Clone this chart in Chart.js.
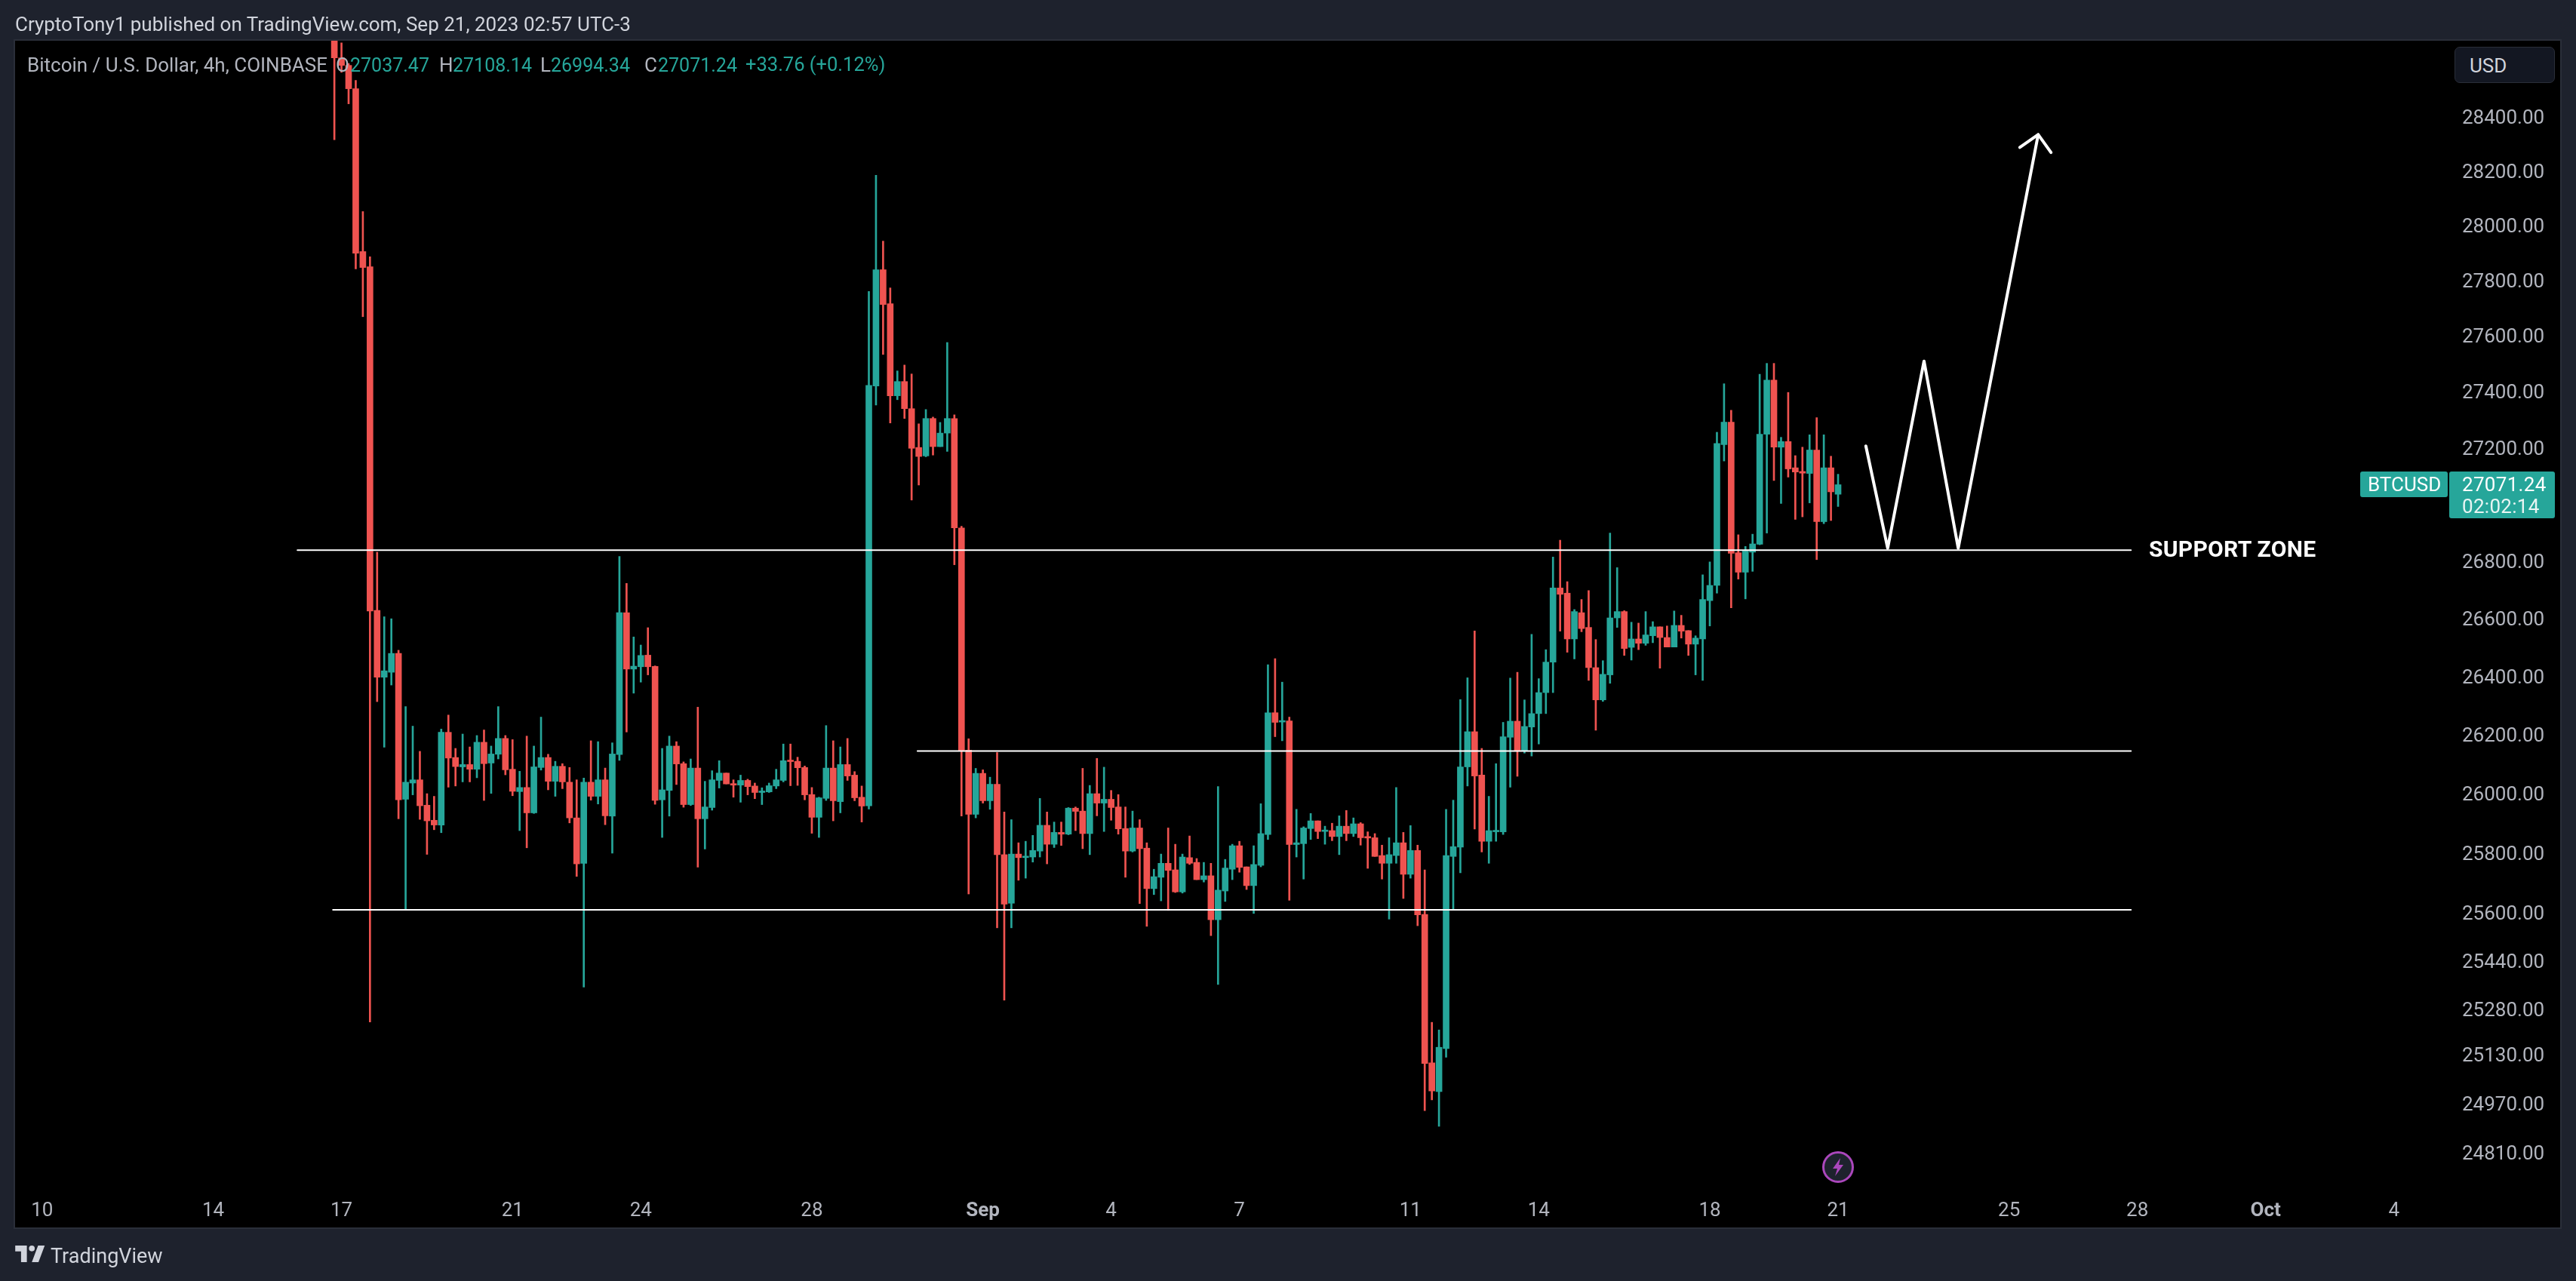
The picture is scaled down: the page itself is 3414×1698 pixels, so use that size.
<!DOCTYPE html>
<html>
<head>
<meta charset="utf-8">
<script src="https://cdn.jsdelivr.net/npm/chart.js@4"></script>
<style>
html, body { margin: 0; padding: 0; background: #1e222d; }
body { width: 3414px; height: 1698px; position: relative; overflow: hidden; font-family: Roboto, sans-serif; }
#pane { position: absolute; left: 20px; top: 54px; width: 3373px; height: 1573px; background: #000; box-shadow: 0 0 0 2px #2a2e39; }
canvas { position: absolute; left: 0; top: 0; }
.t { position: absolute; white-space: nowrap; line-height: 1; transform: translateY(-50%); }
.legend { font-size: 26px; color: #b2b5be; }
.up { color: #26a69a; font-size: 25px; }
.box { position: absolute; background: #26a69a; border-radius: 3px; }
#usd { position: absolute; left: 3253px; top: 62px; width: 131px; height: 46px; background: #131722; border: 1px solid #2a2e39; border-radius: 7px; }
</style>
</head>
<body>
<div id="pane"></div>
<canvas id="chart" width="3414" height="1698"></canvas>

<div class="t" style="left:20px;top:32px;font-size:26px;color:#d1d4dc">CryptoTony1 published on TradingView.com, Sep 21, 2023 02:57 UTC-3</div>

<div class="t legend" style="left:36px;top:86px">Bitcoin / U.S. Dollar, 4h, COINBASE</div>
<div class="t legend" style="left:445px;top:86px">O</div><div class="t legend up" style="left:464px;top:86px">27037.47</div>
<div class="t legend" style="left:582px;top:86px">H</div><div class="t legend up" style="left:600px;top:86px">27108.14</div>
<div class="t legend" style="left:716px;top:86px">L</div><div class="t legend up" style="left:730px;top:86px">26994.34</div>
<div class="t legend" style="left:854px;top:86px">C</div><div class="t legend up" style="left:872px;top:86px">27071.24</div>
<div class="t legend up" style="left:988px;top:86px;font-size:25.5px">+33.76 (+0.12%)</div>

<div id="usd"></div>
<div class="t" style="left:3273px;top:87px;font-size:26px;color:#d1d4dc">USD</div>

<div class="box" style="left:3128px;top:625px;width:116px;height:34px"></div>
<div class="box" style="left:3246px;top:625px;width:140px;height:62px"></div>
<div class="t" style="left:3138px;top:642px;font-size:26px;color:#fff">BTCUSD</div>
<div class="t" style="left:3263px;top:642px;font-size:26px;letter-spacing:.3px;color:#fff">27071.24</div>
<div class="t" style="left:3263px;top:671px;font-size:26px;letter-spacing:.3px;color:#e8f5f3">02:02:14</div>

<div class="t" style="left:2848px;top:728px;font-size:30px;font-weight:700;letter-spacing:.3px;color:#fff">SUPPORT ZONE</div>

<svg style="position:absolute;left:2414px;top:1525px" width="44" height="44" viewBox="0 0 44 44">
  <circle cx="22" cy="22" r="19.5" fill="#1e222d" stroke="#ab47bc" stroke-width="3"/>
  <path d="M25 10 L15 24 L21 24 L18 34 L29 19 L23 19 Z" fill="#ab47bc"/>
</svg>

<svg style="position:absolute;left:20px;top:1651px" width="40" height="22" viewBox="0 0 36 20">
  <path d="M14 0H0v7h7v13h7V0z M28 20h-8L27.5 0h8L28 20z" fill="#d1d4dc"/>
  <circle cx="20" cy="3.5" r="3.5" fill="#d1d4dc"/>
</svg>
<div class="t" style="left:67px;top:1665px;font-size:27px;color:#d1d4dc">TradingView</div>

<script>
// 4h candles, oldest first, the last one is the open bar of Sep 21
const opens = [
  28750,28621,28593,28506,27907,27852,26631,26400,26417,26482,
  25983,26038,26049,25963,25912,25896,26211,26125,26093,26101,
  26085,26177,26106,26136,26190,26085,26009,26023,25937,26091,
  26125,26044,26095,26041,25920,25767,26041,25993,26049,25926,
  26135,26623,26428,26436,26476,26437,25981,26013,26164,26104,
  25965,26089,25917,25955,26047,26072,26036,26031,26047,26028,
  26006,26008,26028,26047,26114,26112,26091,25999,25922,25986,
  26089,25975,26101,26065,25990,25961,27422,27841,27718,27387,
  27438,27341,27203,27173,27306,27206,27254,27306,26919,26150,
  25932,26071,25978,26034,25796,25633,25798,25786,25788,25808,
  25895,25831,25871,25865,25953,25943,25867,26002,25970,25983,
  25957,25884,25808,25886,25818,25682,25720,25767,25745,25671,
  25786,25770,25712,25725,25578,25674,25747,25826,25755,25692,
  25760,25864,26278,26246,26250,25830,25833,25884,25910,25874,
  25877,25857,25892,25867,25900,25857,25853,25793,25767,25793,
  25836,25730,25810,25596,25105,25011,25152,25790,25821,26093,
  26213,26065,25841,25873,25873,26194,26249,26147,26229,26275,
  26347,26452,26709,26691,26532,26623,26572,26433,26322,26408,
  26605,26627,26503,26532,26517,26543,26574,26537,26504,26579,
  26561,26514,26532,26665,26718,27213,27293,26832,26764,26834,
  26862,27250,27443,27204,27224,27131,27118,27111,27194,26941,
  27131,27037.47
];
const closes = [
  28621,28593,28506,27901,27849,26629,26400,26422,26482,25981,
  26041,26049,25961,25910,25896,26211,26123,26094,26101,26085,
  26177,26104,26137,26190,26083,26010,26023,25937,26093,26125,
  26044,26095,26042,25920,25765,26041,25993,26049,25927,26137,
  26623,26428,26438,26475,26436,25979,26015,26164,26103,25965,
  26089,25917,25957,26049,26072,26035,26031,26047,26026,26006,
  26009,26029,26049,26114,26111,26090,25998,25922,25988,26089,
  25978,26101,26062,25988,25960,27424,27841,27715,27387,27438,
  27341,27200,27171,27306,27206,27254,27306,26919,26148,25932,
  26071,25978,26034,25796,25630,25798,25786,25790,25810,25895,
  25831,25871,25865,25953,25942,25867,26002,25970,25983,25955,
  25883,25808,25886,25816,25682,25722,25767,25743,25671,25788,
  25767,25712,25725,25578,25677,25751,25826,25753,25692,25763,
  25867,26278,26245,26250,25830,25836,25886,25910,25874,25877,
  25857,25892,25867,25900,25853,25852,25790,25767,25796,25836,
  25730,25810,25594,25103,25013,25156,25793,25823,26093,26213,
  26062,25841,25877,25877,26196,26249,26147,26231,26275,26347,
  26452,26709,26687,26532,26627,26568,26433,26322,26410,26605,
  26627,26499,26532,26517,26546,26574,26537,26504,26579,26559,
  26514,26535,26669,26718,27217,27293,26830,26764,26838,26863,
  27250,27443,27204,27224,27127,27116,27112,27194,26941,27131,
  27046,27071.24
];
const highs = [
  28760,28677,28600,28537,28053,27888,26834,26609,26602,26493,
  26299,26232,26146,26002,25993,26222,26270,26156,26205,26161,
  26200,26219,26164,26299,26200,26186,26078,26198,26164,26263,
  26136,26112,26104,26091,26049,26055,26182,26179,26089,26175,
  26819,26725,26539,26511,26571,26439,26156,26198,26179,26110,
  26120,26297,26044,26080,26114,26072,26049,26065,26051,26038,
  26022,26038,26085,26171,26171,26126,26096,26023,25990,26234,
  26182,26161,26190,26077,26028,27762,28186,27945,27775,27476,
  27497,27465,27287,27338,27311,27292,27578,27319,26925,26189,
  26088,26083,26058,26142,25940,25914,25836,25841,25861,25986,
  25940,25906,25906,25955,25957,26088,26030,26122,26092,26013,
  25999,25957,25943,25914,25836,25747,25798,25886,25831,25798,
  25859,25783,25770,25767,26026,25780,25831,25841,25755,25826,
  25968,26443,26464,26383,26263,25949,25890,25935,25910,25892,
  25902,25927,25945,25920,25904,25873,25867,25828,25853,26023,
  25871,25894,25828,25745,25238,25213,25949,25980,26323,26398,
  26560,26156,25993,26104,26245,26397,26417,26322,26548,26395,
  26495,26817,26876,26731,26634,26669,26700,26530,26457,26901,
  26780,26630,26590,26587,26627,26592,26574,26577,26629,26614,
  26561,26543,26755,26800,27257,27430,27335,26895,26854,26897,
  27464,27503,27503,27239,27399,27174,27204,27248,27309,27248,
  27172,27108.14
];
const lows = [
  28317,28567,28450,27844,27671,25239,26316,26160,26373,25917,
  25614,25998,25915,25797,25880,25870,26024,26028,26042,26042,
  26056,25979,26003,26120,26066,25995,25877,25819,25935,26082,
  26015,25993,26019,25903,25723,25354,25980,25967,25897,25801,
  26115,26212,26345,26383,26408,25966,25854,25926,26033,25956,
  25962,25754,25815,25946,26021,26035,25990,25973,25998,25985,
  25965,26006,26019,26042,26029,26030,25981,25868,25854,25979,
  25910,25937,26047,25978,25906,25950,27354,27535,27290,27373,
  27306,27017,27070,27170,27176,27206,27189,26790,25926,25664,
  25920,25970,25949,25551,25311,25551,25710,25717,25771,25788,
  25765,25820,25827,25863,25877,25816,25796,25927,25874,25912,
  25865,25720,25805,25632,25556,25662,25641,25609,25669,25667,
  25763,25712,25704,25525,25363,25639,25712,25737,25679,25599,
  25755,25847,26196,26182,25643,25788,25714,25847,25850,25831,
  25843,25796,25843,25857,25828,25750,25790,25714,25580,25767,
  25649,25717,25558,24949,24984,24898,25123,25610,25735,26028,
  25882,25805,25767,25841,25864,26024,26061,26140,26130,26171,
  26275,26347,26559,26486,26463,26557,26389,26218,26317,26379,
  26572,26475,26459,26495,26510,26519,26431,26504,26504,26535,
  26475,26408,26389,26577,26691,27155,26640,26740,26671,26767,
  26860,26901,27086,27005,27098,26949,26958,27007,26808,26934,
  26945,26994.34
];

// x is counted in days from Aug 1 = 1, so Sep 1 = 32 and Oct 1 = 62
const lastBarDay = 52;
const dayTicks = [10, 14, 17, 21, 24, 28, 32, 35, 38, 42, 45, 49, 52, 56, 59, 62, 65];
const dayLabels = ['10', '14', '17', '21', '24', '28', 'Sep', '4', '7', '11', '14', '18', '21', '25', '28', 'Oct', '4'];
const monthLabels = ['Sep', 'Oct'];
const priceTicks = [28400, 28200, 28000, 27800, 27600, 27400, 27200, 26800, 26600, 26400, 26200, 26000, 25800, 25600, 25440, 25280, 25130, 24970, 24810];

// drawn on top of the candles
const supportPrices = [26841, 26147, 25611];
const supportStartDays = [15.97, 30.47, 16.8];
const supportEndDay = 58.85;
const pathDays = [52.65, 53.16, 54.01, 54.81, 56.68];
const pathPrices = [27208, 26848, 27511, 26848, 28336];
const headDays = [56.25, 56.68, 56.98];
const headPrices = [28289, 28336, 28270];

const UP = '#26a69a';
const DOWN = '#ef5350';

function barDay(i) {
    return lastBarDay - (opens.length - 1 - i) / 6;
}

function candleColor(ctx) {
    return closes[ctx.dataIndex] >= opens[ctx.dataIndex] ? UP : DOWN;
}

function drawnLine(days, prices, width) {
    return {
        type: 'line',
        data: days.map((d, i) => ({ x: d, y: prices[i] })),
        borderColor: '#ffffff',
        borderWidth: width,
        pointRadius: 0,
        tension: 0,
        borderCapStyle: 'round',
        borderJoinStyle: 'round',
        order: 0
    };
}

const supportLines = supportPrices.map((p, i) =>
    drawnLine([supportStartDays[i], supportEndDay], [p, p], 2));

new Chart(document.getElementById('chart'), {
    type: 'bar',
    data: {
        datasets: [
            {
                // wicks
                data: opens.map((o, i) => ({ x: barDay(i), y: [lows[i], highs[i]] })),
                backgroundColor: candleColor,
                barThickness: 2,
                order: 2
            },
            {
                // bodies
                data: opens.map((o, i) => ({ x: barDay(i), y: [o, closes[i]] })),
                backgroundColor: candleColor,
                barThickness: 8,
                minBarLength: 2,
                order: 1
            },
            ...supportLines,
            drawnLine(pathDays, pathPrices, 4),
            drawnLine(headDays, headPrices, 4)
        ]
    },
    options: {
        responsive: false,
        devicePixelRatio: 1,
        animation: false,
        datasets: { bar: { grouped: false, borderWidth: 0, borderSkipped: false } },
        layout: { padding: { left: 20, right: 20, top: 54, bottom: 71 } },
        plugins: { legend: { display: false }, tooltip: { enabled: false } },
        scales: {
            x: {
                type: 'linear',
                offset: false,
                min: 9.367,
                max: 66.187,
                grid: { display: false, drawTicks: false },
                border: { display: false },
                afterBuildTicks: scale => { scale.ticks = dayTicks.map(v => ({ value: v })); },
                afterFit: scale => { scale.height = 57; },
                ticks: {
                    autoSkip: false,
                    maxRotation: 0,
                    padding: 20,
                    color: '#b2b5be',
                    font: ctx => ({
                        family: 'Roboto',
                        size: 26,
                        weight: monthLabels.includes(dayLabels[ctx.index]) ? 'bold' : 'normal'
                    }),
                    callback: (value, index) => dayLabels[index]
                }
            },
            y: {
                type: 'logarithmic',
                position: 'right',
                min: 24710,
                max: 28685,
                bounds: 'data',
                grid: { display: false, drawTicks: false },
                border: { display: false },
                afterBuildTicks: scale => { scale.ticks = priceTicks.map(v => ({ value: v })); },
                afterFit: scale => { scale.width = 154; },
                ticks: {
                    autoSkip: false,
                    padding: 23,
                    color: '#b2b5be',
                    // empty first line with a small line height nudges the digits down onto the tick
                    font: { family: 'Roboto', size: 26, lineHeight: '4px' },
                    callback: value => ['', value.toFixed(2)]
                }
            }
        }
    }
});
</script>
</body>
</html>
